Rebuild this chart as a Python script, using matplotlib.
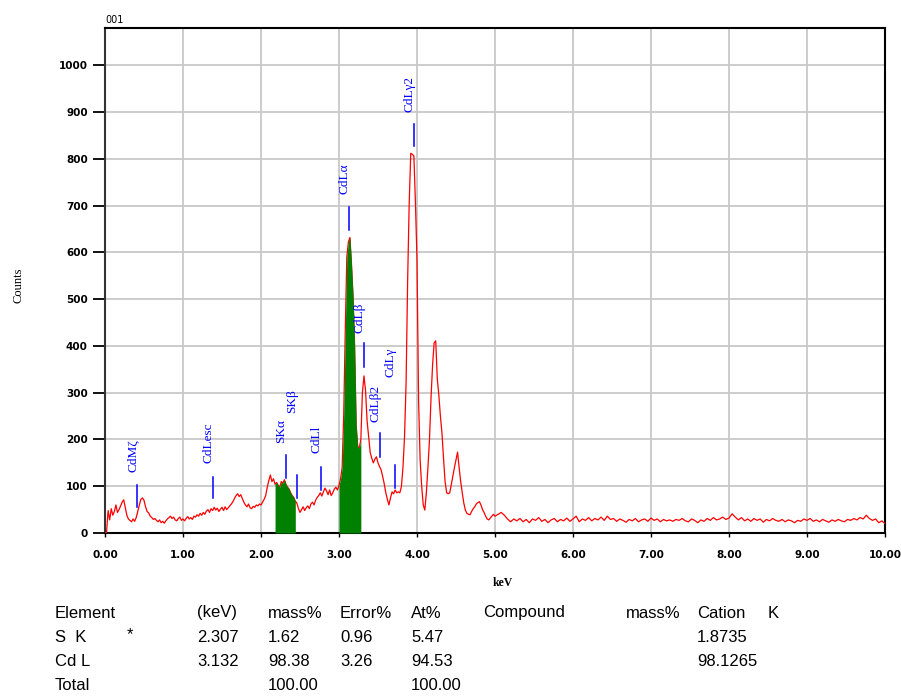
import numpy as np
import matplotlib
matplotlib.use("Agg")
import matplotlib.pyplot as plt
from matplotlib import font_manager

# ---------------- data ----------------
# counts, channel width 0.02 keV from 0.00 to 4.98 keV
counts_low = [
    0, 2, 48, 28, 52, 38, 46, 60, 44, 50,            # 0.0
    58, 66, 71, 54, 38, 30, 27, 24, 30, 25,          # 0.2
    33, 46, 60, 72, 75, 70, 56, 46, 43, 36,          # 0.4
    33, 29, 31, 27, 24, 28, 22, 25, 21, 26,          # 0.6
    30, 33, 36, 31, 34, 28, 26, 31, 34, 27,          # 0.8
    30, 26, 31, 35, 30, 33, 29, 36, 34, 39,          # 1.0
    36, 42, 38, 44, 40, 47, 50, 44, 52, 48,          # 1.2
    55, 49, 53, 46, 51, 55, 48, 56, 50, 54,          # 1.4
    58, 62, 67, 74, 80, 84, 78, 82, 74, 66,          # 1.6
    60, 56, 62, 54, 52, 57, 55, 60, 58, 62,          # 1.8
    60, 66, 72, 80, 98, 112, 124, 110, 116, 104,     # 2.0
    108, 102, 98, 110, 106, 114, 104, 98, 94, 86,    # 2.2
    80, 76, 68, 64, 52, 44, 50, 56, 48, 54,          # 2.4
    58, 52, 62, 66, 60, 70, 76, 80, 86, 79,          # 2.6
    88, 96, 90, 82, 92, 80, 86, 94, 98, 92,          # 2.8
    102, 116, 140, 250, 430, 590, 622, 632, 575, 506,  # 3.0
    400, 230, 185, 182, 200, 300, 336, 305, 240, 205,  # 3.2
    172, 160, 150, 158, 163, 150, 142, 135, 121, 105,  # 3.4
    86, 72, 60, 75, 88, 84, 92, 86, 88, 86,          # 3.6
    99, 140, 205, 320, 540, 706, 812, 810, 806, 706,   # 3.8
    585, 285, 156, 100, 60, 49, 86, 140, 199, 290,   # 4.0
    360, 407, 411, 330, 295, 250, 214, 160, 110, 86, # 4.2
    84, 86, 104, 121, 140, 156, 173, 140, 110, 86,   # 4.4
    64, 49, 42, 40, 39, 46, 52, 56, 62, 65,          # 4.6
    67, 60, 50, 44, 36, 30, 28, 32, 36, 40,          # 4.8
]
# counts, channel width 0.04 keV from 5.00 to 10.00 keV
counts_high = [
    36, 40, 44, 38, 30, 24, 30, 26, 31, 24, 29, 22, 30, 27, 33, 25, 29, 22, 28, 31, 24, 29, 26, 32, 25,  # 5
    30, 36, 24, 30, 27, 33, 26, 31, 28, 34, 27, 36, 29, 31, 25, 30, 27, 23, 29, 26, 31, 24, 28, 30, 25,  # 6
    32, 27, 30, 24, 29, 26, 28, 25, 29, 27, 31, 26, 24, 30, 27, 22, 28, 25, 31, 27, 33, 28, 30, 34, 29,  # 7
    32, 41, 34, 28, 33, 26, 30, 25, 31, 27, 30, 23, 29, 26, 31, 27, 25, 29, 24, 28, 26, 22, 27, 25, 30,  # 8
    27, 31, 25, 28, 24, 29, 26, 23, 28, 25, 29, 26, 24, 29, 27, 31, 28, 33, 30, 38, 31, 27, 30, 22, 26,  # 9
    20,
]
energy_low = np.round(np.arange(len(counts_low)) * 0.02, 2)
energy_high = np.round(5.0 + np.arange(len(counts_high)) * 0.04, 2)
energy = np.concatenate([energy_low, energy_high])
counts = np.array(counts_low + counts_high, dtype=float)

# integration windows (filled green)
window_start = [2.18, 2.99]
window_end = [2.44, 3.28]

# peak markers
peak_names = ["CdMζ", "CdLesc", "SKα", "SKβ", "CdLl", "CdLα", "CdLβ", "CdLβ2", "CdLγ", "CdLγ2"]
peak_energy = [0.41, 1.39, 2.316, 2.457, 2.77, 3.13, 3.325, 3.53, 3.72, 3.96]
marker_low = [56, 75, 118, 75, 92, 649, 355, 163, 96, 827]
marker_high = [103, 120, 167, 124, 141, 698, 407, 214, 146, 874]
label_base = [131, 150, 193, 257, 171, 724, 428, 238, 334, 901]

x_ticks = [0, 1, 2, 3, 4, 5, 6, 7, 8, 9, 10]
x_tick_labels = ["0.00", "1.00", "2.00", "3.00", "4.00", "5.00", "6.00", "7.00", "8.00", "9.00", "10.00"]
y_ticks = [0, 100, 200, 300, 400, 500, 600, 700, 800, 900, 1000]
y_tick_labels = ["0", "100", "200", "300", "400", "500", "600", "700", "800", "900", "1000"]

table_header = ["Element", "(keV)", "mass%", "Error%", "At%", "Compound", "mass%", "Cation", "K"]
row_s = ["S  K", "2.307", "1.62", "0.96", "5.47", "", "", "1.8735", ""]
row_cd = ["Cd L", "3.132", "98.38", "3.26", "94.53", "", "", "98.1265", ""]
row_total = ["Total", "", "100.00", "", "100.00", "", "", "", ""]

# ---------------- figure ----------------
W, H = 901, 698
fig = plt.figure(figsize=(W / 100, H / 100), dpi=100)
fig.patch.set_facecolor("white")
ax = fig.add_axes([105 / W, 1 - 533 / H, 780 / W, 505 / H])
ax.set_xlim(0, 10)
ax.set_ylim(0, 1080)

ax.grid(True, color="#c8c8c8", lw=1.3)
ax.set_axisbelow(True)

ax.plot(energy, counts, color="#ff0000", lw=0.9, zorder=3)
for a, b in zip(window_start, window_end):
    m = (energy >= a - 1e-9) & (energy <= b + 1e-9)
    ax.fill_between(energy, 0, counts, where=m, color="#008000", lw=0, zorder=4)

for name, e, lo, hi, lb in zip(peak_names, peak_energy, marker_low, marker_high, label_base):
    ax.plot([e, e], [lo, hi], color="#0000ff", lw=1.1, zorder=5)
    ax.annotate(name, xy=(e, lb), xytext=(-3.5, 0), textcoords="offset points",
                rotation=90, ha="center", va="bottom", color="#0000ff",
                fontfamily="Liberation Serif", fontsize=9.5, zorder=6)

ax.set_xticks(x_ticks)
ax.set_xticklabels(x_tick_labels)
ax.set_yticks(y_ticks)
ax.set_yticklabels(y_tick_labels)
ax.tick_params(axis="y", direction="out", length=9, width=1.3, pad=3.5, labelsize=7.5)
ax.tick_params(axis="x", direction="out", length=3, width=1, pad=9, labelsize=7.5)
for lab in ax.get_xticklabels() + ax.get_yticklabels():
    lab.set_fontweight("bold")
for s in ax.spines.values():
    s.set_color("black")
    s.set_linewidth(1.5)
ax.spines["left"].set_color("#333333")

fig.text(105 / W, 1 - 20 / H, "001", fontsize=7, ha="left", va="center")
fig.text(18 / W, 1 - 285 / H, "Counts", rotation=90, fontsize=9, ha="center", va="center",
         fontfamily="Liberation Serif")
fig.text(503 / W, 1 - 583 / H, "keV", fontsize=8.5, ha="center", va="center",
         fontfamily="Liberation Serif", fontweight="bold")

names = {f.name for f in font_manager.fontManager.ttflist}
if "Liberation Sans Narrow" in names:
    tfont, tsize = "Liberation Sans Narrow", 13.5
else:
    tfont, tsize = "Liberation Sans", 12

col_x = [55, 197, 268, 340, 411, 483, 626, 697, 768]
row_y = [613, 637, 661, 686]
for ry, row in zip(row_y, [table_header, row_s, row_cd, row_total]):
    for cx, txt in zip(col_x, row):
        if txt:
            fig.text(cx / W, 1 - ry / H, txt, fontsize=tsize, fontfamily=tfont,
                     ha="left", va="center")
fig.text(127 / W, 1 - 635 / H, "*", fontsize=tsize, fontfamily=tfont, ha="left", va="center")

fig.savefig("out.png", dpi=100, facecolor="white")
